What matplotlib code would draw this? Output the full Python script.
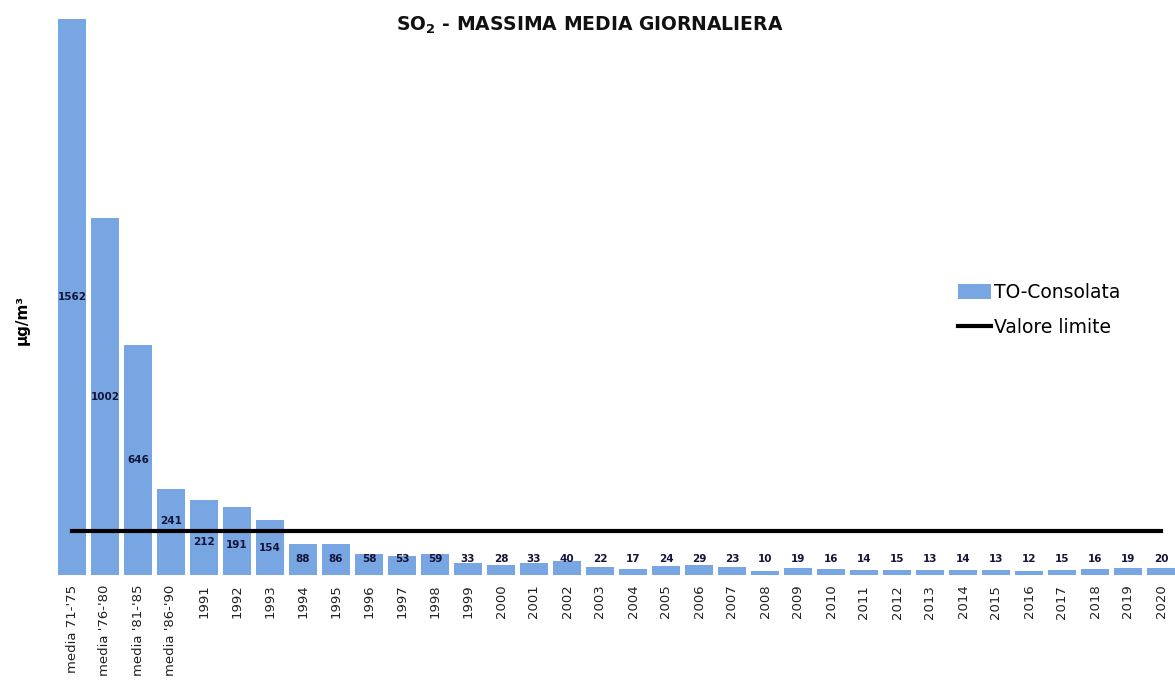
import matplotlib
matplotlib.use('Agg')
import matplotlib.pyplot as plt
import numpy as np

# ---------- Data ----------------------------------------------

periods = ["media 71-'75", "media '76-'80", "media '81-'85", "media '86-'90"]
years = [str(y) for y in range(1991, 2021)]
categories = periods + years

so2_max_daily = [1562, 1002, 646, 241,
                 212, 191, 154, 88, 86, 58, 53, 59, 33, 28,
                 33, 40, 22, 17, 24, 29, 23, 10, 19, 16,
                 14, 15, 13, 14, 13, 12, 15, 16, 19, 20]

limit_value = 125

bar_color = '#78A6E2'
label_color = '#15153a'


def label_height(v, limit):
	# centre of the bar, lifted above tiny bars, nudged off the limit line
	y = max(v / 2, 46)
	if abs(y - limit) < 35:
		if y >= limit - 8:
			y = limit + 27
		else:
			y = y - 12
	return y


# ---------- Plot ----------------------------------------------

fig = plt.figure(figsize=(11.75, 7), dpi=100)
ax = fig.add_axes([55.5 / 1175, 125 / 700, 1122 / 1175, 556 / 700])

x = np.arange(len(categories))
bars = ax.bar(x, so2_max_daily, width=0.87, color=bar_color, label='TO-Consolata', zorder=2)
line, = ax.plot([x[0], x[-1]], [limit_value, limit_value], color='black', lw=3,
                label='Valore limite', zorder=3)

for xi, v in zip(x, so2_max_daily):
	ax.text(xi, label_height(v, limit_value), str(v), ha='center', va='center',
	        fontsize=7.5, fontweight='bold', color=label_color, zorder=4)

ax.set_xlim(-0.5, len(categories) - 0.5)
ax.set_ylim(0, 1562)
ax.set_xticks(x)
ax.set_xticklabels(categories, rotation=90, fontsize=9.5, color='#222222')
ax.tick_params(axis='x', length=0, pad=7)
ax.set_yticks([])
for s in ax.spines.values():
	s.set_visible(False)

fig.text(22 / 1175, 1 - 320 / 700, 'µg/m³', rotation=90, ha='center', va='center',
         fontsize=11, fontweight='bold')
fig.text(590 / 1175, 1 - 25 / 700, 'SO$_\\mathbf{2}$ - MASSIMA MEDIA GIORNALIERA',
         ha='center', va='center', fontsize=13.5, fontweight='bold', color='#111111')

ax.legend([bars, line], ['TO-Consolata', 'Valore limite'],
          loc='upper left', bbox_to_anchor=(941 / 1175, 1 - 266 / 700),
          bbox_transform=fig.transFigure, frameon=False, fontsize=13.5,
          handlelength=1.75, handleheight=0.8, handletextpad=0.15, labelspacing=0.85)

fig.savefig('out.png', dpi=100)
